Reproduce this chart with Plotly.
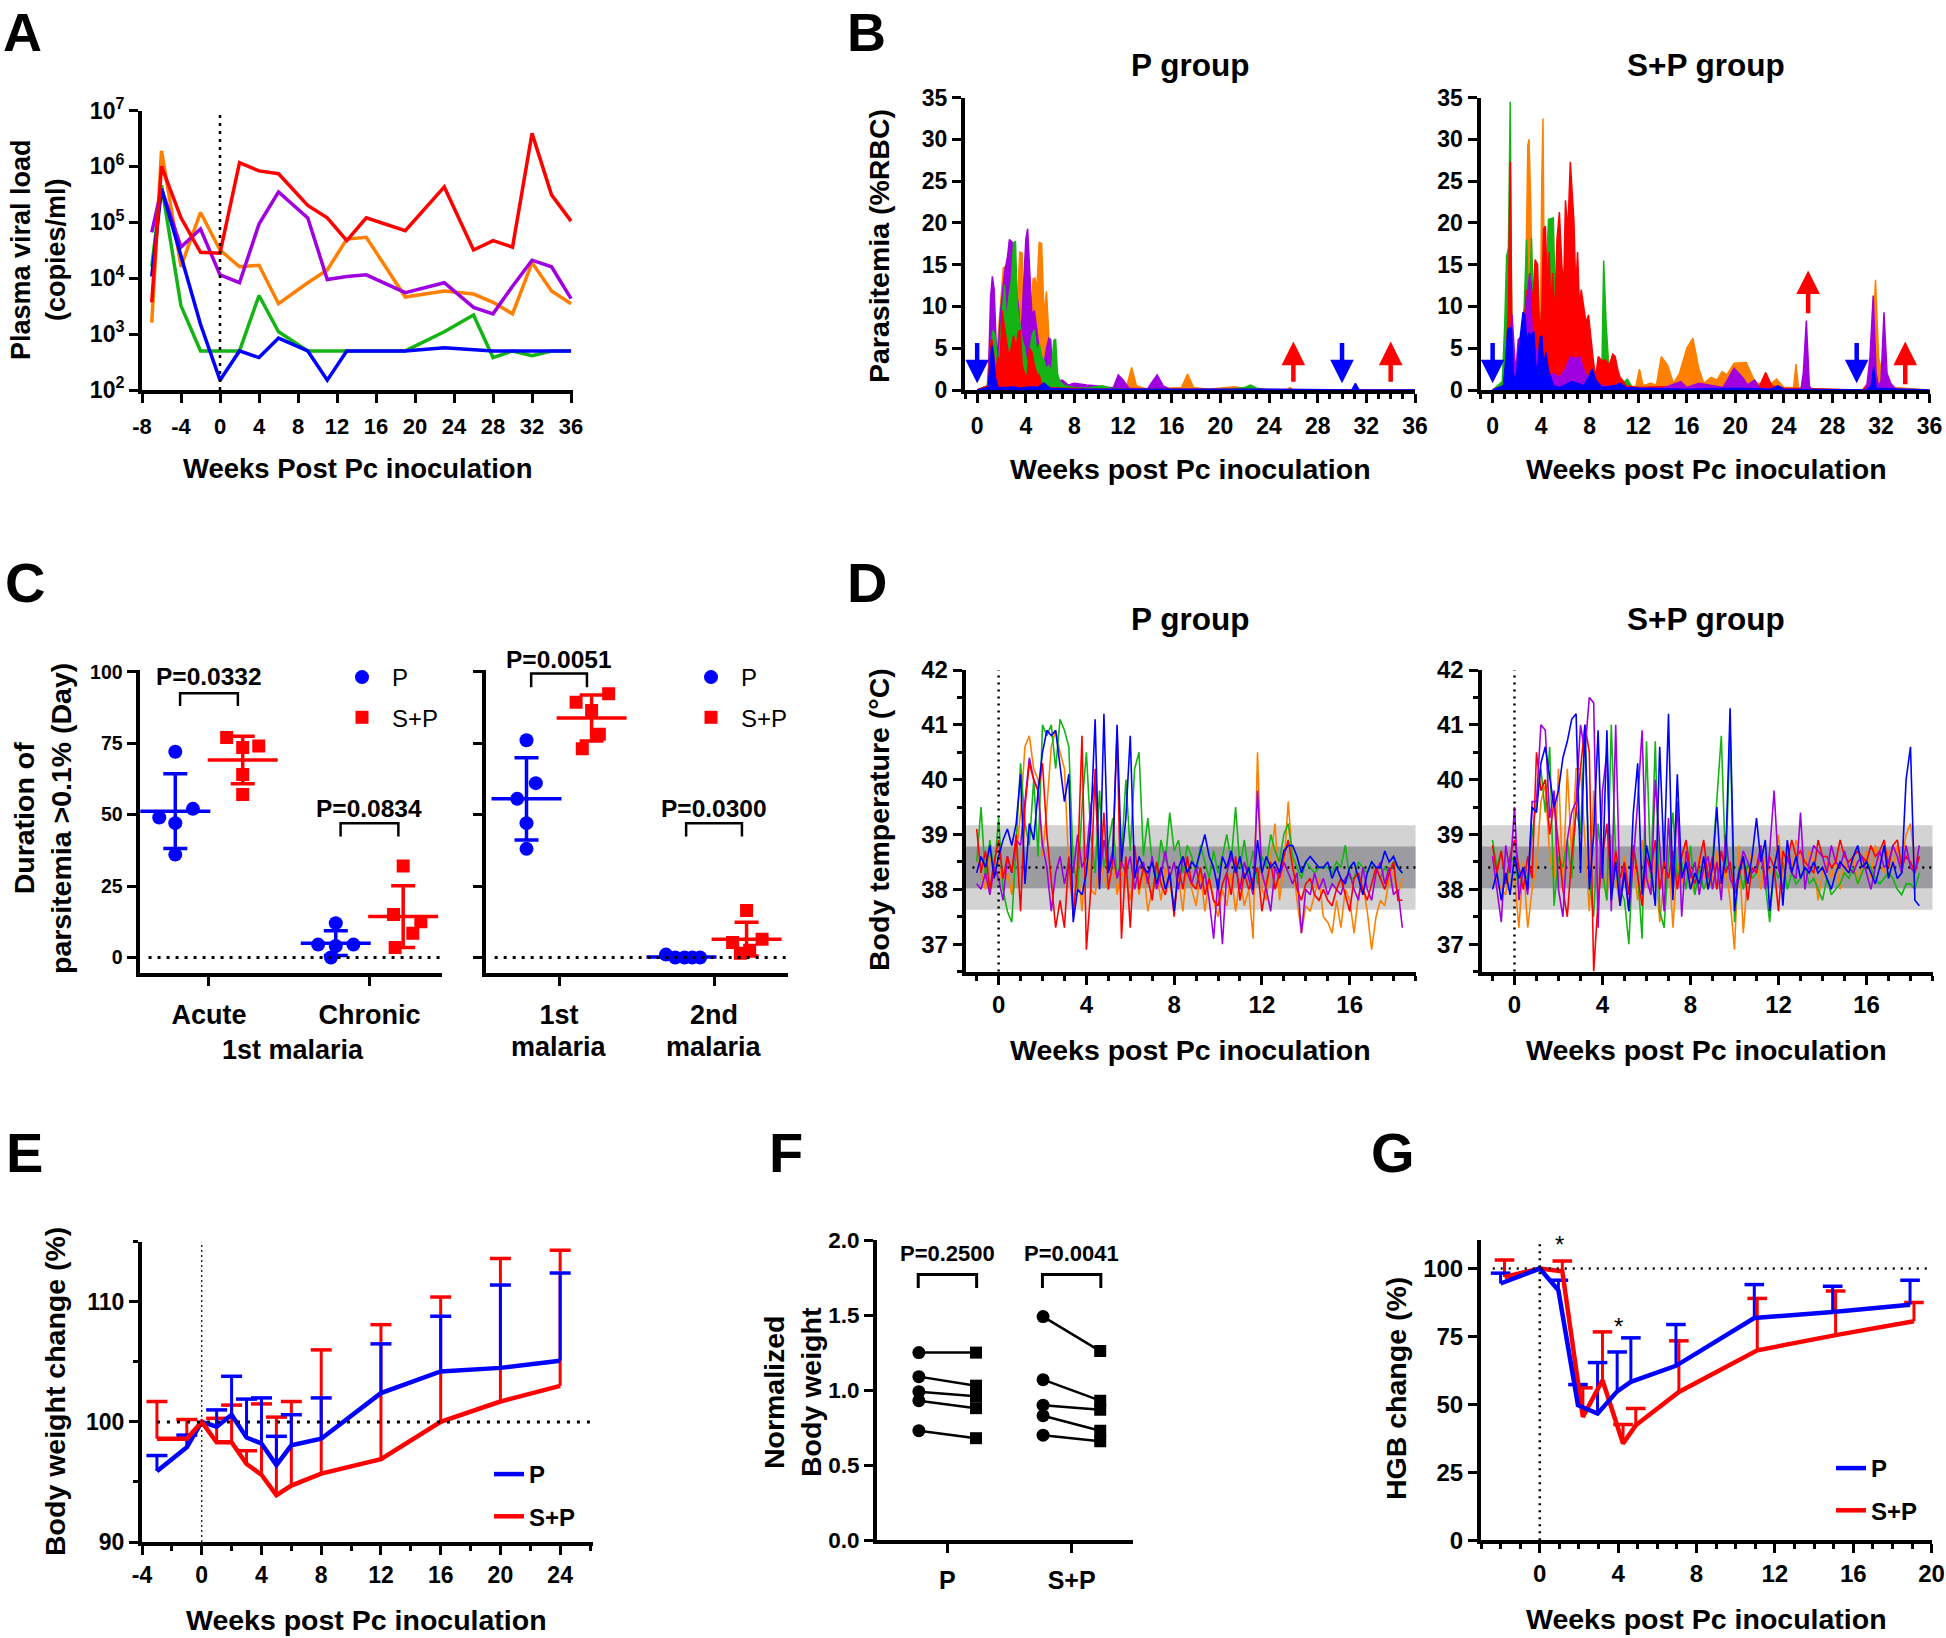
# ================================================================
# 0. Section: IMPORTS
# ================================================================
import numpy as np
import plotly.graph_objects as go


# ================================================================
# 1. Section: DATA
# ================================================================
# --- A: plasma viral load (copies/ml)
a_weeks = [-7, -6, -4, -2, 0, 2, 4, 6, 9, 11, 13, 15, 19, 23, 26, 28, 30, 32, 34, 36]
a_orange = [1600, 1.9e6, 1.6e4, 1.5e5, 3.2e4, 1.6e4, 1.7e4, 3500, 8300, 1.4e4, 5.0e4, 5.4e4,
            4600, 5900, 5200, 3700, 2300, 1.9e4, 5900, 3500]
a_purple = [6.6e4, 4.0e5, 3.6e4, 7.6e4, 1.15e4, 8300, 9.3e4, 3.5e5, 1.2e5, 9500, 1.07e4, 1.15e4,
            5500, 8300, 3000, 2300, 7200, 2.1e4, 1.6e4, 4300]
a_green = [1.6e4, 4.6e5, 3200, 500, 500, 500, 4900, 1100, 500, 500, 500, 500,
           500, 1100, 2200, 380, 500, 410, 500, 500]
a_blue = [1.07e4, 4.0e5, 2.5e4, 1500, 150, 500, 380, 850, 500, 150, 500, 500,
          500, 570, 530, 500, 500, 500, 500, 500]
a_red = [3700, 1.0e6, 1.2e5, 2.9e4, 2.8e4, 1.17e6, 8.3e5, 7.4e5, 2.0e5, 1.2e5, 4.7e4, 1.2e5,
         7.1e4, 4.3e5, 3.2e4, 4.7e4, 3.6e4, 3.9e6, 3.1e5, 1.05e5]

# --- B: parasitemia (%RBC), P group
b_P_orange_wk = [0, 0.8, 1.0, 1.2, 1.4, 1.6, 1.8, 2.0, 2.15, 2.3, 2.5, 2.7, 2.9, 3.1, 3.3, 3.5, 3.7,
                 3.85, 4.0, 4.2, 4.4, 4.6, 4.75, 4.9, 5.1, 5.3, 5.5, 5.7, 5.9, 6.1, 6.4, 6.8, 7.2, 8,
                 9, 10, 11, 12.3, 12.7, 13.1, 14, 16.8, 17.3, 17.8, 19, 20.5, 21.2, 21.8, 24, 25.5,
                 25.7, 26, 36]
b_P_orange = [0, 0, 4, 9.5, 6, 4, 8, 12, 14.6, 14.8, 8, 11, 10, 16.5, 10, 16.5, 16.4,
              3, 1.5, 4, 8, 13.3, 13.4, 12, 17.7, 17.5, 9, 11.8, 6.2, 3, 1.5, 0.8, 0.5, 0.3,
              0.3, 0.2, 0.1, 0.5, 2.7, 0.5, 0.1, 0.3, 1.9, 0.3, 0.1, 0.3, 0.4, 0.2, 0, 0,
              0.3, 0, 0]
b_P_purple_wk = [0, 0.9, 1.1, 1.25, 1.4, 1.55, 1.7, 1.9, 2.1, 2.3, 2.5, 2.65, 2.8, 3.0, 3.2, 3.4,
                 3.6, 3.8, 4.0, 4.15, 4.3, 4.5, 4.7, 4.9, 5.1, 5.3, 5.5, 5.7, 5.9, 6.05, 6.2, 6.5,
                 7.0, 7.5, 8.0, 9.0, 9.8, 10.5, 11.2, 11.6, 12.0, 12.5, 14.0, 14.3, 14.8, 15.3,
                 16, 36]
b_P_purple = [0, 0.5, 11, 13.6, 12, 6, 4, 9, 12, 14.5, 16, 18, 17.8, 17.5, 12, 10,
              6, 12, 18, 19.3, 14, 9, 9.5, 7, 5, 4, 3, 5, 6.2, 6, 1.5, 1.0,
              1.2, 0.6, 0.8, 0.6, 0.5, 0.3, 0.3, 1.8, 1.2, 0.2, 0.1, 0.8, 1.8, 0.5,
              0, 0]
b_P_green_wk = [0, 0.9, 1.1, 1.3, 1.5, 1.7, 1.9, 2.1, 2.25, 2.4, 2.6, 2.8, 3.0, 3.15, 3.3, 3.5,
                3.7, 3.9, 4.1, 4.3, 4.5, 4.7, 4.9, 5.1, 5.3, 5.5, 5.7, 5.9, 6.1, 6.3, 6.45, 6.6,
                6.8, 7.2, 8, 9, 10.3, 11, 12, 20, 22, 22.5, 23, 24, 36]
b_P_green = [0, 0.5, 5, 7.1, 6.5, 2, 6, 10, 12.6, 8, 11, 13, 17.6, 17.8, 10, 8,
             6, 5, 3, 4, 6.5, 7.2, 4.5, 5.5, 4, 3.5, 2.5, 3, 2, 5.9, 6.1, 2,
             1, 0.5, 0.3, 0.2, 0.5, 0.2, 0.1, 0, 0.3, 0.6, 0.2, 0, 0]
b_P_red_wk = [0, 0.9, 1.05, 1.2, 1.35, 1.5, 1.7, 1.9, 2.05, 2.2, 2.4, 2.6, 2.8, 3.0, 3.2, 3.4,
              3.55, 3.7, 3.9, 4.1, 4.3, 4.5, 4.7, 4.9, 5.1, 5.3, 5.6, 6, 7, 8, 9, 10, 36]
b_P_red = [0, 0.5, 5, 6.1, 4.5, 2, 4, 3.5, 9.5, 8, 6, 4, 5, 6.5, 5, 7,
           7.1, 3, 2, 1.5, 5, 4.5, 3, 2, 1.8, 0.8, 0.5, 0.3, 0.2, 0.2, 0.1, 0.1, 0]
b_P_blue_wk = [0, 0.9, 1.05, 1.2, 1.35, 1.5, 1.7, 2.0, 2.5, 3.0, 3.5, 4.0, 4.5, 5.0, 5.5, 6, 8,
               12, 20, 24, 30.8, 31.1, 31.4, 36]
b_P_blue = [0, 0.3, 3, 5.4, 4.0, 1.5, 0.3, 0.3, 0.3, 0.4, 0.2, 0.3, 0.4, 0.3, 0.8, 0.2, 0.1,
            0.1, 0.1, 0.1, 0, 0.8, 0, 0]

# --- B: parasitemia (%RBC), S+P group
b_SP_orange_wk = [0, 1.0, 1.3, 1.6, 2.0, 2.4, 2.7, 2.9, 3.0, 3.15, 3.3, 3.5, 3.7, 3.9, 4.05, 4.15,
                  4.3, 4.5, 5, 5.5, 6, 6.5, 7, 8, 9, 10, 11, 11.8, 12.1, 12.4, 13, 13.5, 13.9,
                  14.4, 14.9, 15.4, 16.0, 16.5, 17.0, 17.4, 18.0, 18.5, 18.9, 19.3, 19.9, 20.9,
                  21.6, 22.4, 23.0, 23.4, 24, 24.8, 25.0, 25.2, 25.5, 29, 30.5, 31.0, 31.3,
                  31.55, 31.8, 32.2, 33, 36]
b_SP_orange = [0, 0.5, 1, 2, 3, 6, 10, 29.3, 30, 22, 4, 10, 6, 2, 25, 32.5,
               3, 2, 1.5, 1, 2, 0.8, 0.5, 0.5, 0.5, 0.3, 0.5, 0.4, 2.5, 0.5, 0.8, 0.6, 4.0,
               3.0, 0.8, 2, 5.0, 6.2, 2.5, 0.8, 1.5, 1.2, 2.2, 1.8, 3.2, 3.3,
               1.0, 0.5, 0.8, 1.3, 0.3, 0.3, 3.1, 0.3, 0.2, 0, 0, 0.5, 5,
               13.2, 4, 1, 0.3, 0]
b_SP_green_wk = [0, 0.8, 1.0, 1.15, 1.3, 1.45, 1.6, 1.8, 2.0, 2.3, 2.6, 2.8, 3.0, 3.2, 3.4, 3.6,
                 3.8, 4.0, 4.2, 4.4, 4.6, 4.8, 5.0, 5.2, 5.4, 5.6, 5.8, 6.0, 6.2, 6.4, 6.6, 6.8,
                 7.0, 7.2, 7.5, 7.8, 8.1, 8.4, 8.7, 9.0, 9.15, 9.35, 9.6, 10, 10.5, 11.1, 11.5,
                 12, 14, 16, 20, 24, 36]
b_SP_green = [0, 1, 8, 16, 17, 34.5, 3, 1, 2, 4, 10, 18, 8, 18.2, 8, 5,
              9, 3, 7, 12, 20.4, 20.5, 20.6, 8, 6, 12, 10, 12, 9, 7, 5, 8,
              7.8, 3, 2, 1.5, 2, 1, 0.8, 2, 15.5, 8, 2, 1, 0.5, 1.3, 0.3,
              0.2, 0.2, 0.3, 0.2, 0, 0]
b_SP_red_wk = [0, 0.9, 1.1, 1.3, 1.45, 1.6, 1.8, 2.0, 2.2, 2.4, 2.6, 2.8, 3.0, 3.15, 3.3, 3.5,
               3.7, 3.9, 4.05, 4.2, 4.35, 4.5, 4.65, 4.8, 4.95, 5.1, 5.3, 5.5, 5.7, 5.85, 6.0,
               6.2, 6.4, 6.55, 6.7, 6.85, 7.0, 7.15, 7.3, 7.5, 7.7, 7.9, 8.1, 8.3, 8.5, 8.7,
               9.0, 9.3, 9.6, 9.9, 10.1, 10.3, 10.5, 10.7, 11, 12, 14, 16, 18, 20, 22, 22.5,
               23, 24, 30.5, 31, 31.4, 32, 36]
b_SP_red = [0, 0.5, 3, 10, 27.3, 5, 1, 2, 6, 3, 8, 12, 9, 13, 10, 15.6,
            15, 6, 10, 19.3, 19.6, 12, 16.5, 10, 14, 8, 18, 21.3, 15, 12, 22.7,
            19, 27.3, 24, 20.2, 12, 16.5, 10, 12, 10, 8, 9, 6, 3.5, 1.5, 4,
            3.5, 3.6, 3, 4.3, 4.0, 2.5, 1.5, 1.2, 0.5, 0.3, 0.4, 0.2, 0.2, 0.2, 0.5, 2.1,
            0.5, 0.2, 0, 1.0, 0.3, 0, 0]
b_SP_purple_wk = [0, 1.0, 1.3, 1.6, 1.9, 2.1, 2.3, 2.5, 2.7, 2.9, 3.05, 3.2, 3.4, 3.6, 3.8, 4.0,
                  4.5, 5.0, 5.5, 6.0, 6.4, 6.8, 7.2, 7.6, 8.0, 8.5, 9, 10, 12, 14, 15.5, 16, 17,
                  19, 19.9, 20.6, 21, 21.6, 22, 25.4, 25.6, 25.85, 26.1, 26.3, 30.8, 31.1,
                  31.36, 31.6, 31.8, 32.0, 32.25, 32.5, 32.8, 33.3, 36]
b_SP_purple = [0, 0.5, 3, 9, 2, 6, 6.3, 4, 9, 12, 14, 9, 3, 5, 2, 3,
               1.5, 2, 1.5, 2.5, 4, 3.8, 3.9, 2, 1.5, 1, 0.5, 0.3, 0.2, 0.2, 1.0, 0.3, 0.8,
               0.3, 2.6, 1.5, 0.6, 1.2, 0.2, 0, 2, 8.3, 0.5, 0, 0, 4,
               11.3, 2, 0.5, 1, 9.3, 2, 0.8, 0, 0]
b_SP_blue_wk = [0, 0.9, 1.1, 1.25, 1.4, 1.55, 1.7, 1.9, 2.1, 2.3, 2.5, 2.65, 2.8, 3.0, 3.2, 3.4,
                3.55, 3.7, 3.9, 4.05, 4.2, 4.4, 4.6, 4.8, 5.0, 5.5, 6.0, 6.5, 7.0, 7.5, 7.9, 8.2,
                8.5, 9.0, 10, 10.5, 11, 12, 16, 20, 23, 23.5, 24, 30.8, 31.2, 31.4, 31.6, 36]
b_SP_blue = [0, 0.5, 4, 7.2, 7.5, 7.4, 2, 1, 4, 7, 9.3, 9.0, 6, 6.8, 6.5, 7,
             3, 2, 6.3, 6.5, 3, 4.5, 2.2, 1.5, 0.5, 0.3, 0.6, 1.0, 0.8, 0.5, 1.5, 2.5,
             1.2, 0.3, 0.5, 0.8, 0.3, 0.2, 0.1, 0.2, 0.1, 0.5, 0.1, 0, 0.5, 2.7, 0.2, 0]

# --- B: treatment arrows (week, tail value, head value)
b_P_arrow_wk = [0, 26, 30, 34]
b_P_arrow_tail = [5.8, 0.8, 5.8, 0.8]
b_P_arrow_head = [0.8, 5.8, 0.8, 5.8]
b_SP_arrow_wk = [0, 26, 30, 34]
b_SP_arrow_tail = [5.8, 9.0, 5.8, 0.5]
b_SP_arrow_head = [0.8, 14.3, 0.8, 5.8]

# --- C: duration of parasitemia > 0.1% (days), 5 animals per group
c_left_cats = ["Acute", "Chronic"]
c_right_cats = ["1st", "2nd"]
c_acute_P = [72, 52, 49, 47, 36]
c_acute_SP = [77, 73.5, 74, 64, 57]
c_chronic_P = [12, 4.5, 4, 4.5, 0]
c_chronic_SP = [32, 15, 12.5, 8.5, 3.5]
c_first_P = [76, 61, 55.5, 47, 38]
c_first_SP = [92.3, 89.3, 86.4, 78.1, 73]
c_second_P = [1, 0, 0, 0, 0]
c_second_SP = [16.4, 6.4, 5.2, 2.5, 1.5]
c_pvals_left = ["P=0.0332", "P=0.0834"]
c_pvals_right = ["P=0.0051", "P=0.0300"]

# --- D: body temperature (deg C), sampled every 0.2 week from week -1 to 18.4
d_band_outer = [37.63, 39.17]
d_band_inner = [38.02, 38.78]
d_baseline = 38.4
d_P_orange = [38.6, 38.3, 38.0, 38.7, 38.2, 38.5, 38.0, 38.3, 37.9, 38.6,
              39.4, 40.6, 40.8, 40.2, 40.0, 38.6, 39.5, 40.6, 40.9, 40.5,
              40.2, 38.4, 37.7, 38.5, 37.6, 38.8, 38.0, 37.9, 38.6, 38.2,
              38.0, 38.6, 37.9, 38.3, 38.2, 37.8, 38.5, 37.9, 38.4, 37.6,
              38.0, 38.3, 37.8, 38.4, 38.1, 37.7, 38.2, 37.6, 38.5, 38.0,
              37.7, 38.3, 37.6, 38.2, 37.8, 37.5, 38.0, 37.7, 38.3, 37.6,
              38.2, 37.7, 38.0, 37.1, 40.5, 38.0, 37.8, 38.6, 39.2, 37.8,
              38.4, 39.6, 38.5, 37.8, 37.2, 37.7, 37.6, 37.9, 38.2, 37.5,
              37.4, 37.2, 37.8, 37.3, 38.0, 37.8, 37.2, 37.9, 38.1, 37.6,
              36.9, 37.5, 37.8, 37.7, 38.2, 38.3, 37.9, 38.2]
d_P_green = [38.5, 39.5, 38.2, 38.9, 38.3, 39.3, 38.0, 37.6, 37.4, 38.8,
             40.3, 39.2, 38.8, 40.0, 38.6, 41.0, 40.8, 41.0, 40.2, 41.1,
             40.9, 40.6, 38.5, 38.0, 39.5, 40.5, 39.0, 38.3, 39.8, 38.4,
             38.8, 39.3, 38.2, 38.6, 40.0, 38.7, 40.2, 40.5, 38.6, 39.3,
             38.5, 38.2, 38.9, 38.5, 39.4, 38.7, 38.9, 38.3, 38.8, 38.6,
             38.3, 38.8, 38.5, 38.2, 38.7, 38.3, 38.6, 39.0, 38.5, 39.5,
             38.4, 38.9, 38.3, 38.7, 38.1, 38.6, 38.4, 39.0, 38.7, 38.5,
             39.0, 39.2, 38.6, 38.4, 38.2, 38.5, 38.4, 38.3, 38.4, 38.4,
             38.4, 38.3, 38.5, 38.4, 38.8, 38.2, 38.2, 38.5, 38.4, 38.3,
             38.5, 38.4, 38.2, 38.4, 38.3, 38.5, 38.4, 38.3]
d_P_purple = [38.1, 38.0, 38.3, 37.9, 38.4, 38.2, 37.8, 38.6, 38.3, 38.9,
              38.8, 39.6, 40.4, 40.0, 39.8, 38.8, 38.4, 37.6, 38.3, 38.6,
              38.1, 38.5, 38.3, 39.0, 38.4, 38.6, 39.5, 40.0, 38.2, 38.9,
              38.4, 38.7, 38.2, 38.5, 38.3, 38.6, 38.0, 38.4, 38.5, 38.1,
              38.6, 38.0, 38.3, 38.7, 38.2, 38.5, 38.0, 38.6, 38.3, 38.1,
              38.4, 38.0, 38.3, 37.8, 37.1, 38.2, 37.0, 38.3, 38.6, 38.4,
              38.0, 38.5, 38.2, 37.9, 39.8, 38.3, 38.0, 37.6, 38.4, 38.2,
              38.5, 38.3, 38.1, 38.3, 37.2, 38.0, 37.9, 38.3, 38.0, 38.2,
              37.9, 38.1, 38.0, 37.9, 38.2, 38.3, 38.0, 37.8, 38.4, 38.0,
              37.8, 38.3, 38.5, 38.1, 38.4, 37.9, 38.0, 37.3]
d_P_red = [39.1, 38.3, 38.7, 38.0, 38.5, 38.9, 38.2, 38.6, 38.3, 39.0,
           37.6, 39.5, 40.3, 40.0, 39.8, 40.3, 39.0, 38.2, 37.3, 37.8,
           37.3, 38.6, 37.5, 38.4, 40.8, 36.9, 38.0, 40.2, 38.1, 39.4,
           38.0, 38.5, 40.9, 37.1, 38.6, 37.3, 38.8, 38.0, 38.4, 38.2,
           37.8, 38.5, 38.1, 37.9, 38.3, 37.5, 38.4, 38.0, 38.6, 38.1,
           38.0, 38.4, 37.9, 38.2, 37.8, 37.7, 38.1, 38.3, 37.9, 38.6,
           37.8, 38.3, 38.0, 38.2, 38.4, 37.6, 38.1, 38.5, 38.0, 38.3,
           38.6, 38.9, 38.4, 38.0, 37.8, 38.1, 38.2, 37.9, 37.8, 38.0,
           37.8, 37.7, 38.0, 38.2, 37.9, 37.6, 38.2, 38.3, 38.0, 37.8,
           38.1, 38.4, 38.2, 38.0, 38.3, 38.5, 37.8, 37.8]
d_P_blue = [38.3, 38.6, 38.4, 38.8, 38.2, 38.6, 38.9, 39.1, 38.8, 39.2,
            40.1, 38.1, 39.2, 38.9, 39.8, 40.5, 40.9, 40.8, 40.9, 40.2,
            39.6, 40.1, 37.4, 38.0, 37.9, 38.3, 39.2, 41.1, 38.0, 41.2,
            38.3, 38.6, 41.0, 38.5, 39.3, 40.8, 38.2, 38.6, 38.4, 38.3,
            38.5, 38.1, 38.4, 38.0, 38.3, 37.6, 38.4, 38.6, 38.3, 38.5,
            38.4, 38.7, 39.0, 38.6, 38.4, 38.0, 38.6, 38.4, 38.7, 38.3,
            38.6, 38.2, 38.4, 38.0, 38.9, 38.3, 38.6, 38.4, 38.5, 38.3,
            38.7, 38.8, 38.8, 38.6, 38.3, 38.5, 38.6, 38.5, 38.4, 38.4,
            38.5, 38.2, 38.4, 38.2, 38.1, 38.4, 38.5, 38.2, 37.9, 38.3,
            38.5, 38.4, 38.4, 38.7, 38.5, 38.6, 38.4, 38.3]
d_SP_orange = [38.6, 38.2, 38.0, 37.9, 38.4, 38.2, 37.3, 38.5, 37.3, 38.0,
               38.4, 39.6, 39.9, 38.6, 38.2, 40.2, 38.0, 40.2, 38.6, 40.2,
               40.2, 39.0, 37.6, 39.8, 37.9, 38.4, 37.8, 39.0, 38.2, 37.7,
               38.6, 38.0, 38.5, 37.8, 38.9, 38.3, 37.9, 38.6, 37.4, 38.2,
               38.7, 37.3, 38.5, 38.1, 38.8, 38.2, 37.9, 38.6, 38.3, 38.0,
               38.2, 38.7, 38.0, 38.4, 37.8, 36.9, 38.8, 37.2, 38.3, 38.7,
               38.5, 38.0, 38.6, 38.3, 38.4, 39.0, 38.2, 38.7, 38.4, 38.9,
               38.6, 38.4, 38.7, 38.5, 37.8, 38.3, 38.5, 38.2, 38.6, 38.0,
               38.5, 38.3, 38.6, 38.1, 38.4, 38.7, 38.2, 38.8, 38.5, 38.3,
               38.7, 38.4, 38.8, 38.5, 39.0, 39.2, 38.5, 38.6]
d_SP_green = [38.9, 38.4, 38.7, 38.1, 38.5, 38.6, 38.0, 38.3, 38.2, 39.0,
              39.6, 40.2, 39.4, 40.6, 37.7, 38.6, 38.4, 38.9, 38.2, 39.5,
              39.0, 41.0, 38.2, 37.5, 39.2, 38.3, 37.8, 41.0, 38.6, 38.0,
              37.8, 37.0, 38.8, 38.3, 37.1, 40.7, 38.2, 40.7, 37.6, 37.3,
              38.6, 39.4, 38.2, 38.5, 38.0, 38.8, 37.9, 38.4, 38.0, 38.2,
              38.5, 39.7, 40.8, 38.3, 40.9, 37.4, 38.4, 38.0, 38.5, 38.2,
              38.3, 38.6, 38.1, 37.4, 38.4, 38.2, 38.5, 38.0, 38.3, 38.1,
              38.2, 38.4, 38.1, 38.2, 38.0, 37.8, 38.2, 37.9, 38.0, 38.1,
              38.3, 38.2, 38.4, 38.1, 38.3, 38.5, 38.4, 38.2, 38.1, 38.2,
              38.3, 38.2, 38.0, 37.9, 38.1, 38.1, 38.0, 38.3]
d_SP_red = [38.8, 38.3, 38.7, 38.1, 38.6, 38.9, 38.4, 38.0, 38.6, 38.2,
            40.5, 39.8, 40.0, 39.0, 39.6, 38.8, 38.0, 37.5, 38.6, 39.4,
            40.2, 41.0, 40.5, 36.5, 37.8, 38.6, 39.2, 38.0, 38.7, 38.2,
            38.5, 37.9, 38.8, 38.2, 37.7, 38.6, 38.3, 38.9, 38.0, 38.5,
            38.2, 38.7, 38.0, 38.6, 38.9, 38.3, 38.1, 38.5, 38.9, 38.2,
            38.6, 38.0, 38.7, 38.3, 38.5, 37.9, 38.2, 38.6, 37.8, 38.4,
            38.3, 38.8, 38.1, 38.6, 38.4, 37.6, 38.7, 38.5, 38.9, 38.6,
            38.7, 38.5, 38.4, 38.3, 38.9, 38.6, 38.6, 38.4, 38.5, 38.9,
            38.6, 38.5, 38.6, 38.7, 38.6, 38.5, 38.8, 38.6, 38.7, 38.9,
            38.4, 38.8, 38.9, 38.4, 38.6, 38.5, 38.3, 38.6]
d_SP_purple = [38.6, 38.0, 37.4, 38.8, 38.3, 39.5, 37.8, 38.4, 37.9, 39.6,
               39.6, 41.0, 40.9, 39.3, 39.8, 38.0, 37.5, 38.9, 39.4, 39.6,
               41.0, 40.5, 41.5, 41.4, 37.3, 39.8, 40.5, 37.6, 41.0, 37.8,
               38.4, 37.6, 38.5, 39.6, 40.9, 38.2, 37.9, 40.0, 38.7, 37.6,
               39.3, 37.9, 39.6, 37.5, 38.7, 38.2, 38.5, 37.9, 38.4, 38.6,
               38.0, 38.5, 37.8, 39.0, 38.2, 38.0, 38.3, 38.7, 38.5, 38.3,
               38.4, 38.8, 38.0, 38.7, 39.8, 38.4, 38.0, 38.6, 38.3, 38.2,
               39.4, 38.0, 38.5, 38.8, 38.7, 38.6, 38.3, 38.8, 38.5, 38.4,
               38.7, 38.4, 38.3, 38.5, 38.6, 38.3, 38.0, 38.4, 38.7, 38.4,
               38.5, 38.8, 38.6, 38.3, 38.8, 38.4, 38.3, 38.8]
d_SP_blue = [38.0, 38.3, 37.8, 38.3, 37.9, 38.6, 38.2, 38.4, 38.0, 39.5,
             39.4, 40.3, 40.6, 40.0, 39.5, 39.8, 40.4, 40.7, 41.1, 41.2,
             38.3, 41.0, 38.0, 39.0, 40.9, 38.2, 40.9, 37.8, 38.5, 37.7,
             38.3, 37.6, 39.4, 40.3, 37.9, 38.8, 38.4, 37.7, 40.6, 38.5,
             41.2, 37.8, 40.1, 38.2, 38.5, 38.0, 38.3, 38.1, 38.6, 38.0,
             38.4, 39.5, 38.1, 38.6, 41.3, 37.6, 38.3, 38.6, 38.1, 38.6,
             39.3, 38.5, 38.9, 37.6, 38.4, 38.8, 37.7, 38.9, 38.3, 38.6,
             38.2, 38.4, 38.3, 38.5, 38.3, 38.4, 38.2, 38.0, 38.3, 38.5,
             38.4, 38.3, 38.6, 38.8, 38.4, 38.5, 38.3, 38.1, 38.4, 38.8,
             38.2, 38.5, 38.2, 38.3, 40.0, 40.6, 37.8, 37.7]

# --- E: body weight change (%), mean and upper SD end
e_weeks = [-3, -1, 0, 1, 2, 3, 4, 5, 6, 8, 12, 16, 20, 24]
e_P_mean = [95.9, 97.9, 100, 99.6, 100.6, 98.7, 98.2, 96.4, 98.05, 98.6, 102.4, 104.2, 104.5, 105.1]
e_P_top = [97.2, 98.9, None, 101.0, 103.8, 101.9, 102.0, 98.8, 100.6, 102.0, 106.5, 108.8, 111.4, 112.4]
e_SP_mean = [98.6, 98.6, 100, 98.3, 98.3, 96.5, 95.6, 93.9, 94.7, 95.7, 96.9, 100, 101.7, 103.0]
e_SP_top = [101.7, 100.2, None, 100.3, 101.4, 97.6, 101.5, 100.4, 101.7, 106.0, 108.1, 110.4, 113.6, 114.3]

# --- F: normalized body weight, before / after
f_cats = ["P", "S+P"]
f_P_before = [1.25, 1.09, 0.99, 0.93, 0.73]
f_P_after = [1.25, 1.03, 0.96, 0.88, 0.68]
f_SP_before = [1.49, 1.07, 0.90, 0.83, 0.70]
f_SP_after = [1.26, 0.93, 0.87, 0.73, 0.66]
f_pvals = ["P=0.2500", "P=0.0041"]

# --- G: HGB change (%), mean and upper SD end
g_P_weeks = [-2, 0, 0.95, 1.95, 2.95, 3.95, 4.65, 6.95, 10.95, 14.95, 18.9]
g_P_mean = [94.5, 100, 92, 49.7, 46.6, 54.8, 58.3, 64.2, 81.8, 84, 86.7]
g_P_top = [98.3, None, 95.7, 57.3, 65.4, 69.3, 74.5, 79.4, 94.1, 93.5, 95.7]
g_SP_weeks = [-1.8, 0, 1.15, 2.2, 3.2, 4.25, 4.9, 7.1, 11.1, 15.1, 19.1]
g_SP_mean = [96.9, 100, 99, 45.4, 58.9, 35.6, 42.3, 54.6, 69.9, 75.5, 80.6]
g_SP_top = [103.1, None, 102.8, 56.1, 76.7, 42.6, 48.5, 73.4, 89, 91.7, 87.5]
g_star_weeks = [1, 4]
g_star_y = [108.7, 78.5]


# ================================================================
# 2. Section: STYLE
# ================================================================
W, H = 1946, 1638
FONT = "Liberation Sans, Arial, Helvetica, sans-serif"
RED, ORANGE, PURPLE, GREEN, BLUE = "#FF0000", "#FF8000", "#A000E0", "#14B414", "#0000FF"
TITLE = 28.5


def xdom(left, right):
    return [left / W, right / W]


def ydom(top, bottom):
    return [1 - bottom / H, 1 - top / H]


def font(size, bold=True):
    return dict(family=FONT, size=size, color="black", weight="bold" if bold else "normal")


def axis(dom, anchor, rng, size=22, **kw):
    base = dict(domain=dom, anchor=anchor, range=rng, showline=True, linecolor="black",
                linewidth=4, ticks="outside", ticklen=9, tickwidth=3, tickcolor="black",
                showgrid=False, zeroline=False, tickfont=font(size), fixedrange=True)
    base.update(kw)
    return base


def minor(step, length=5):
    return dict(dtick=step, ticks="outside", ticklen=length, tickwidth=3, tickcolor="black",
                showgrid=False)


def label(px, py, text, size, bold=True, angle=0, xanchor="center", yanchor="middle"):
    return dict(x=px / W, y=1 - py / H, xref="paper", yref="paper", text=text,
                showarrow=False, textangle=angle, xanchor=xanchor, yanchor=yanchor,
                font=font(size, bold))


def up_bars(x, mean, top):
    xs, ys, cx, cy = [], [], [], []
    for xi, m, t in zip(x, mean, top):
        if t is None:
            continue
        xs += [xi, xi, None]
        ys += [m, t, None]
        cx.append(xi)
        cy.append(t)
    return xs, ys, cx, cy


# pixel box of the C panel (used to place labels that sit above the axis range)
C_YPX, C_YRANGE = (670, 972.6), [-5.3, 100.6]


def c_paper_y(val):
    top, bot = C_YPX
    py = bot - (val - C_YRANGE[0]) / (C_YRANGE[1] - C_YRANGE[0]) * (bot - top)
    return 1 - py / H


# ================================================================
# 3. Section: FIGURE
# ================================================================
fig = go.Figure()
annotations = []
shapes = []

# ---------------- A ----------------
for vals, col in [(a_orange, ORANGE), (a_purple, PURPLE), (a_green, GREEN), (a_blue, BLUE), (a_red, RED)]:
    fig.add_trace(go.Scatter(x=a_weeks, y=vals, mode="lines", line=dict(color=col, width=3.5),
                             xaxis="x", yaxis="y", showlegend=False))
shapes.append(dict(type="line", xref="x", yref="y domain", x0=0, x1=0, y0=0, y1=1,
                   line=dict(color="black", width=2.5, dash="3px,5px")))

# ---------------- B ----------------
b_sets = [
    ("x2", "y2", [(b_P_orange_wk, b_P_orange, ORANGE), (b_P_purple_wk, b_P_purple, PURPLE),
                  (b_P_green_wk, b_P_green, GREEN), (b_P_red_wk, b_P_red, RED),
                  (b_P_blue_wk, b_P_blue, BLUE)],
     b_P_arrow_wk, b_P_arrow_tail, b_P_arrow_head),
    ("x3", "y3", [(b_SP_orange_wk, b_SP_orange, ORANGE), (b_SP_green_wk, b_SP_green, GREEN),
                  (b_SP_red_wk, b_SP_red, RED), (b_SP_purple_wk, b_SP_purple, PURPLE),
                  (b_SP_blue_wk, b_SP_blue, BLUE)],
     b_SP_arrow_wk, b_SP_arrow_tail, b_SP_arrow_head),
]
for xa, ya, series, awk, atail, ahead in b_sets:
    for wk, vals, col in series:
        fig.add_trace(go.Scatter(x=wk, y=vals, mode="lines", fill="tozeroy", fillcolor=col,
                                 line=dict(color=col, width=1.5), xaxis=xa, yaxis=ya,
                                 showlegend=False))
    for wk, t, hd in zip(awk, atail, ahead):
        col = BLUE if hd < t else RED
        annotations.append(dict(x=wk, y=hd, ax=wk, ay=t, xref=xa, yref=ya, axref=xa, ayref=ya,
                                text="", showarrow=True, arrowhead=2, arrowsize=1.05,
                                arrowwidth=4.5, arrowcolor=col, standoff=0))

# ---------------- C ----------------
c_off = 0.21
c_jit = {
    "acute_P": [0, 0.11, -0.1, 0, 0], "acute_SP": [-0.1, 0, 0.1, 0, 0],
    "chronic_P": [0, -0.11, 0, 0.11, -0.03], "chronic_SP": [0, -0.06, 0.11, 0.06, -0.05],
    "first_P": [0, 0.06, -0.06, 0, 0], "first_SP": [0.11, -0.1, 0, 0.05, -0.06],
    "second_P": [-0.1, -0.04, 0.02, 0.07, 0.12], "second_SP": [0, 0.1, -0.09, 0.02, -0.04],
}
c_groups = [
    ("x4", "y4", "legend3", [(0, c_acute_P, c_acute_SP, "acute"), (1, c_chronic_P, c_chronic_SP, "chronic")]),
    ("x5", "y5", "legend4", [(0, c_first_P, c_first_SP, "first"), (1, c_second_P, c_second_SP, "second")]),
]
for xa, ya, leg, cats in c_groups:
    for ci, (cat, pv, spv, key) in enumerate(cats):
        for vals, sign, col, sym, nm, jk in [(pv, -1, BLUE, "circle", "P", key + "_P"),
                                              (spv, 1, RED, "square", "S+P", key + "_SP")]:
            xc = cat + sign * c_off
            fig.add_trace(go.Scatter(
                x=[xc + j for j in c_jit[jk]], y=vals, mode="markers",
                marker=dict(symbol=sym, size=14 if sym == "circle" else 13, color=col),
                xaxis=xa, yaxis=ya, name=nm, legend=leg, legendgroup=leg + nm,
                showlegend=(ci == 0)))
            fig.add_trace(go.Scatter(
                x=[xc], y=[float(np.mean(vals))], mode="markers",
                marker=dict(symbol="line-ew", size=50, color=col, line=dict(color=col, width=3.5)),
                error_y=dict(type="data", array=[float(np.std(vals, ddof=1))], color=col,
                             thickness=3.5, width=12),
                xaxis=xa, yaxis=ya, showlegend=False))

c_brackets = [("x4", "y4", 0, 92.5, 88, 98.2, c_pvals_left[0]),
              ("x4", "y4", 1, 47, 42.3, 52.3, c_pvals_left[1]),
              ("x5", "y5", 0, 99.4, 94.6, 104.4, c_pvals_right[0]),
              ("x5", "y5", 1, 47, 42.3, 52.3, c_pvals_right[1])]
for xa, ya, cat, ytop, yleg, ytxt, txt in c_brackets:
    fig.add_trace(go.Scatter(x=[cat - 0.18, cat - 0.18, cat + 0.18, cat + 0.18],
                             y=[yleg, ytop, ytop, yleg], mode="lines",
                             line=dict(color="black", width=2.5), xaxis=xa, yaxis=ya,
                             showlegend=False))
    annotations.append(dict(x=cat, y=c_paper_y(ytxt), xref=xa, yref="paper", text=txt,
                            showarrow=False, yanchor="middle", font=font(24.5)))
for xa, ya in [("x4", "y4"), ("x5", "y5")]:
    shapes.append(dict(type="line", xref=xa + " domain", yref=ya, x0=0.03, x1=1, y0=0, y1=0,
                       line=dict(color="black", width=3, dash="3px,6px")))

# ---------------- D ----------------
d_weeks = np.round(np.arange(-1.0, 18.41, 0.2), 1)
for xa, ya, series in [("x6", "y6", [(d_P_orange, ORANGE), (d_P_green, GREEN), (d_P_purple, PURPLE),
                                     (d_P_red, RED), (d_P_blue, BLUE)]),
                       ("x7", "y7", [(d_SP_orange, ORANGE), (d_SP_green, GREEN), (d_SP_red, RED),
                                     (d_SP_purple, PURPLE), (d_SP_blue, BLUE)])]:
    for vals, col in series:
        fig.add_trace(go.Scatter(x=d_weeks, y=vals, mode="lines", line=dict(color=col, width=1.6),
                                 xaxis=xa, yaxis=ya, showlegend=False))
    shapes.append(dict(type="rect", xref=xa + " domain", yref=ya, x0=0, x1=1,
                       y0=d_band_outer[0], y1=d_band_outer[1], fillcolor="#D3D3D3",
                       line=dict(width=0), layer="below"))
    shapes.append(dict(type="rect", xref=xa + " domain", yref=ya, x0=0, x1=1,
                       y0=d_band_inner[0], y1=d_band_inner[1], fillcolor="#9C9CA0",
                       line=dict(width=0), layer="below"))
    shapes.append(dict(type="line", xref=xa + " domain", yref=ya, x0=0.015, x1=1,
                       y0=d_baseline, y1=d_baseline, layer="below",
                       line=dict(color="black", width=2.5, dash="2px,5px")))
    shapes.append(dict(type="line", xref=xa, yref=ya + " domain", x0=0, x1=0, y0=0, y1=1,
                       line=dict(color="black", width=2.5, dash="2px,5px")))

# ---------------- E ----------------
for wk, mean, top, col in [(e_weeks, e_SP_mean, e_SP_top, RED), (e_weeks, e_P_mean, e_P_top, BLUE)]:
    xs, ys, cx, cy = up_bars(wk, mean, top)
    fig.add_trace(go.Scatter(x=xs, y=ys, mode="lines", line=dict(color=col, width=3),
                             xaxis="x8", yaxis="y8", showlegend=False))
    fig.add_trace(go.Scatter(x=cx, y=cy, mode="markers",
                             marker=dict(symbol="line-ew", size=15, line=dict(color=col, width=3.5)),
                             xaxis="x8", yaxis="y8", showlegend=False))
for wk, mean, col, nm in [(e_weeks, e_P_mean, BLUE, "P"), (e_weeks, e_SP_mean, RED, "S+P")]:
    fig.add_trace(go.Scatter(x=wk, y=mean, mode="lines", line=dict(color=col, width=4.5),
                             xaxis="x8", yaxis="y8", name=nm, legend="legend",
                             legendgroup="e" + nm))
shapes.append(dict(type="line", xref="x8", yref="y8 domain", x0=0, x1=0, y0=0, y1=1,
                   line=dict(color="black", width=1.2, dash="2px,3px")))
shapes.append(dict(type="line", xref="x8", yref="y8", x0=-3, x1=26.2, y0=100, y1=100,
                   line=dict(color="black", width=3, dash="3px,7px")))

# ---------------- F ----------------
f_off = 0.23
for cat, before, after in [(0, f_P_before, f_P_after), (1, f_SP_before, f_SP_after)]:
    lx, ly = [], []
    for b, a in zip(before, after):
        lx += [cat - f_off, cat + f_off, None]
        ly += [b, a, None]
    fig.add_trace(go.Scatter(x=lx, y=ly, mode="lines", line=dict(color="black", width=2.5),
                             xaxis="x9", yaxis="y9", showlegend=False))
    fig.add_trace(go.Scatter(x=[cat - f_off] * len(before), y=before, mode="markers",
                             marker=dict(symbol="circle", size=13, color="black"),
                             xaxis="x9", yaxis="y9", showlegend=False))
    fig.add_trace(go.Scatter(x=[cat + f_off] * len(after), y=after, mode="markers",
                             marker=dict(symbol="square", size=12, color="black"),
                             xaxis="x9", yaxis="y9", showlegend=False))
    fig.add_trace(go.Scatter(x=[cat - 0.235, cat - 0.235, cat + 0.235, cat + 0.235],
                             y=[1.68, 1.77, 1.77, 1.68], mode="lines",
                             line=dict(color="black", width=3), xaxis="x9", yaxis="y9",
                             showlegend=False))
    annotations.append(dict(x=cat, y=1.91, xref="x9", yref="y9", text=f_pvals[cat],
                            showarrow=False, font=font(22)))

# ---------------- G ----------------
for wk, mean, top, col in [(g_SP_weeks, g_SP_mean, g_SP_top, RED),
                           (g_P_weeks, g_P_mean, g_P_top, BLUE)]:
    xs, ys, cx, cy = up_bars(wk, mean, top)
    fig.add_trace(go.Scatter(x=xs, y=ys, mode="lines", line=dict(color=col, width=3),
                             xaxis="x10", yaxis="y10", showlegend=False))
    fig.add_trace(go.Scatter(x=cx, y=cy, mode="markers",
                             marker=dict(symbol="line-ew", size=14, line=dict(color=col, width=3.5)),
                             xaxis="x10", yaxis="y10", showlegend=False))
for wk, mean, col, nm in [(g_SP_weeks, g_SP_mean, RED, "S+P"), (g_P_weeks, g_P_mean, BLUE, "P")]:
    fig.add_trace(go.Scatter(x=wk, y=mean, mode="lines", line=dict(color=col, width=4.5),
                             xaxis="x10", yaxis="y10", name=nm, legend="legend2",
                             legendgroup="g" + nm, legendrank=2 if nm == "S+P" else 1))
for wk, yv in zip(g_star_weeks, g_star_y):
    annotations.append(dict(x=wk, y=yv, xref="x10", yref="y10", text="*", showarrow=False,
                            font=font(24, bold=False)))
shapes.append(dict(type="line", xref="x10", yref="y10 domain", x0=0, x1=0, y0=0, y1=1,
                   line=dict(color="black", width=2.5, dash="2px,5px")))
shapes.append(dict(type="line", xref="x10", yref="y10", x0=-2.4, x1=20, y0=100, y1=100,
                   line=dict(color="black", width=2.5, dash="2px,6px")))

# ---------------- text ----------------
annotations += [
    label(1, 0, "A", 54, xanchor="left", yanchor="top"),
    label(845, 0, "B", 54, xanchor="left", yanchor="top"),
    label(3, 582, "C", 56, xanchor="left"), label(845, 582, "D", 56, xanchor="left"),
    label(4, 1152, "E", 56, xanchor="left"), label(767, 1152, "F", 56, xanchor="left"),
    label(1369, 1152, "G", 56, xanchor="left"),
    label(1190, 65, "P group", 31.5), label(1706, 65, "S+P group", 31.5),
    label(1190, 619, "P group", 31.5), label(1706, 619, "S+P group", 31.5),
    label(38, 250, "Plasma viral load<br>(copies/ml)", 27, angle=-90),
    label(879, 246, "Parasitemia (%RBC)", TITLE, angle=-90),
    label(42, 819, "Duration of<br>parsitemia >0.1% (Day)", TITLE, angle=-90),
    label(879, 820, "Body temperature (°C)", TITLE, angle=-90),
    label(55, 1392, "Body weight change (%)", TITLE, angle=-90),
    label(792, 1392, "Normalized<br>Body weight", TITLE, angle=-90),
    label(1396, 1389, "HGB change (%)", TITLE, angle=-90),
    label(357, 469, "Weeks Post Pc inoculation", 27.5),
    label(1190, 469, "Weeks post Pc inoculation", TITLE),
    label(1706, 469, "Weeks post Pc inoculation", TITLE),
    label(1190, 1050, "Weeks post Pc inoculation", TITLE),
    label(1706, 1050, "Weeks post Pc inoculation", TITLE),
    label(366, 1620, "Weeks post Pc inoculation", TITLE),
    label(1706, 1619, "Weeks post Pc inoculation", TITLE),
    label(293, 1050, "1st malaria", 27),
    label(559, 1047, "malaria", 27), label(714, 1047, "malaria", 27),
]

# ---------------- axes ----------------
a_xt = list(range(-8, 37, 4))
e_xt = list(range(-4, 25, 4))
fig.update_layout(
    width=W, height=H, margin=dict(l=0, r=0, t=0, b=0, autoexpand=False),
    paper_bgcolor="white", plot_bgcolor="white", hovermode=False,
    font=dict(family=FONT, color="black"),
    # A
    xaxis=axis(xdom(142, 573), "y", [-8, 36.2], size=22, tickvals=a_xt,
               ticktext=[str(v) for v in a_xt], ticklabelstandoff=5),
    yaxis=axis(ydom(110.5, 390), "x", [2, 7], size=23, type="log",
               tickvals=[10 ** k for k in range(2, 8)],
               ticktext=["10<sup>%d</sup>" % k for k in range(2, 8)]),
    # B
    xaxis2=axis(xdom(965, 1415), "y2", [-1, 36], size=23, dtick=4, tick0=0, minor=minor(1),
                layer="below traces", ticklabelstandoff=3),
    yaxis2=axis(ydom(97.5, 390), "x2", [0, 35], size=23, dtick=5, tick0=0),
    xaxis3=axis(xdom(1480.5, 1929.5), "y3", [-1, 36], size=23, dtick=4, tick0=0, minor=minor(1),
                layer="below traces", ticklabelstandoff=3),
    yaxis3=axis(ydom(97.5, 390), "x3", [0, 35], size=23, dtick=5, tick0=0),
    # C
    xaxis4=axis(xdom(139.5, 441.7), "y4", [-0.433, 1.45], size=27, tickvals=[0, 1],
                ticktext=c_left_cats, ticklabelstandoff=6),
    yaxis4=axis(ydom(*C_YPX), "x4", C_YRANGE, size=19.5, tickvals=[0, 25, 50, 75, 100]),
    xaxis5=axis(xdom(485.6, 787.8), "y5", [-0.474, 1.476], size=27, tickvals=[0, 1],
                ticktext=c_right_cats, ticklabelstandoff=6),
    yaxis5=axis(ydom(*C_YPX), "x5", C_YRANGE, tickvals=[0, 25, 50, 75, 100],
                showticklabels=False),
    # D
    xaxis6=axis(xdom(965.7, 1415.5), "y6", [-1.5, 19], size=24, dtick=4, tick0=0, minor=minor(1)),
    yaxis6=axis(ydom(670, 971.6), "x6", [36.5, 42], size=24, dtick=1, tick0=37, minor=minor(0.5)),
    xaxis7=axis(xdom(1481.5, 1932.5), "y7", [-1.5, 19], size=24, dtick=4, tick0=0, minor=minor(1)),
    yaxis7=axis(ydom(670, 971.6), "x7", [36.5, 42], size=24, dtick=1, tick0=37, minor=minor(0.5)),
    # E
    xaxis8=axis(xdom(142, 593), "y8", [-4, 26.2], size=23, tickvals=e_xt,
                ticktext=[str(v) for v in e_xt], minor=minor(2)),
    yaxis8=axis(ydom(1241.8, 1542), "x8", [90, 115], size=23, tickvals=[90, 100, 110],
                minor=minor(5)),
    # F
    xaxis9=axis(xdom(877, 1132.5), "y9", [-0.567, 1.49], size=25, tickvals=[0, 1],
                ticktext=f_cats, ticklabelstandoff=6),
    yaxis9=axis(ydom(1240, 1540.3), "x9", [0, 2], size=22.5, dtick=0.5, tick0=0,
                tickformat=".1f"),
    # G
    xaxis10=axis(xdom(1481, 1931.6), "y10", [-3, 20], size=24, dtick=4, tick0=0, minor=minor(1)),
    yaxis10=axis(ydom(1240, 1540.3), "x10", [0, 110.5], size=24, dtick=25, tick0=0),
    # legends
    legend=dict(x=489 / W, y=1 - 1452 / H, xanchor="left", yanchor="top", font=font(24),
                bgcolor="rgba(0,0,0,0)", tracegroupgap=8),
    legend2=dict(x=1831 / W, y=1 - 1446 / H, xanchor="left", yanchor="top", font=font(24),
                 bgcolor="rgba(0,0,0,0)", tracegroupgap=8),
    legend3=dict(x=332 / W, y=1 - 655 / H, xanchor="left", yanchor="top", itemwidth=50,
                 font=font(24, bold=False), bgcolor="rgba(0,0,0,0)", tracegroupgap=6),
    legend4=dict(x=681 / W, y=1 - 655 / H, xanchor="left", yanchor="top", itemwidth=50,
                 font=font(24, bold=False), bgcolor="rgba(0,0,0,0)", tracegroupgap=6),
    annotations=annotations,
    shapes=shapes,
)

fig.write_html("out.html", config={"displayModeBar": False},
               post_script="document.body.style.margin = '0px';")
